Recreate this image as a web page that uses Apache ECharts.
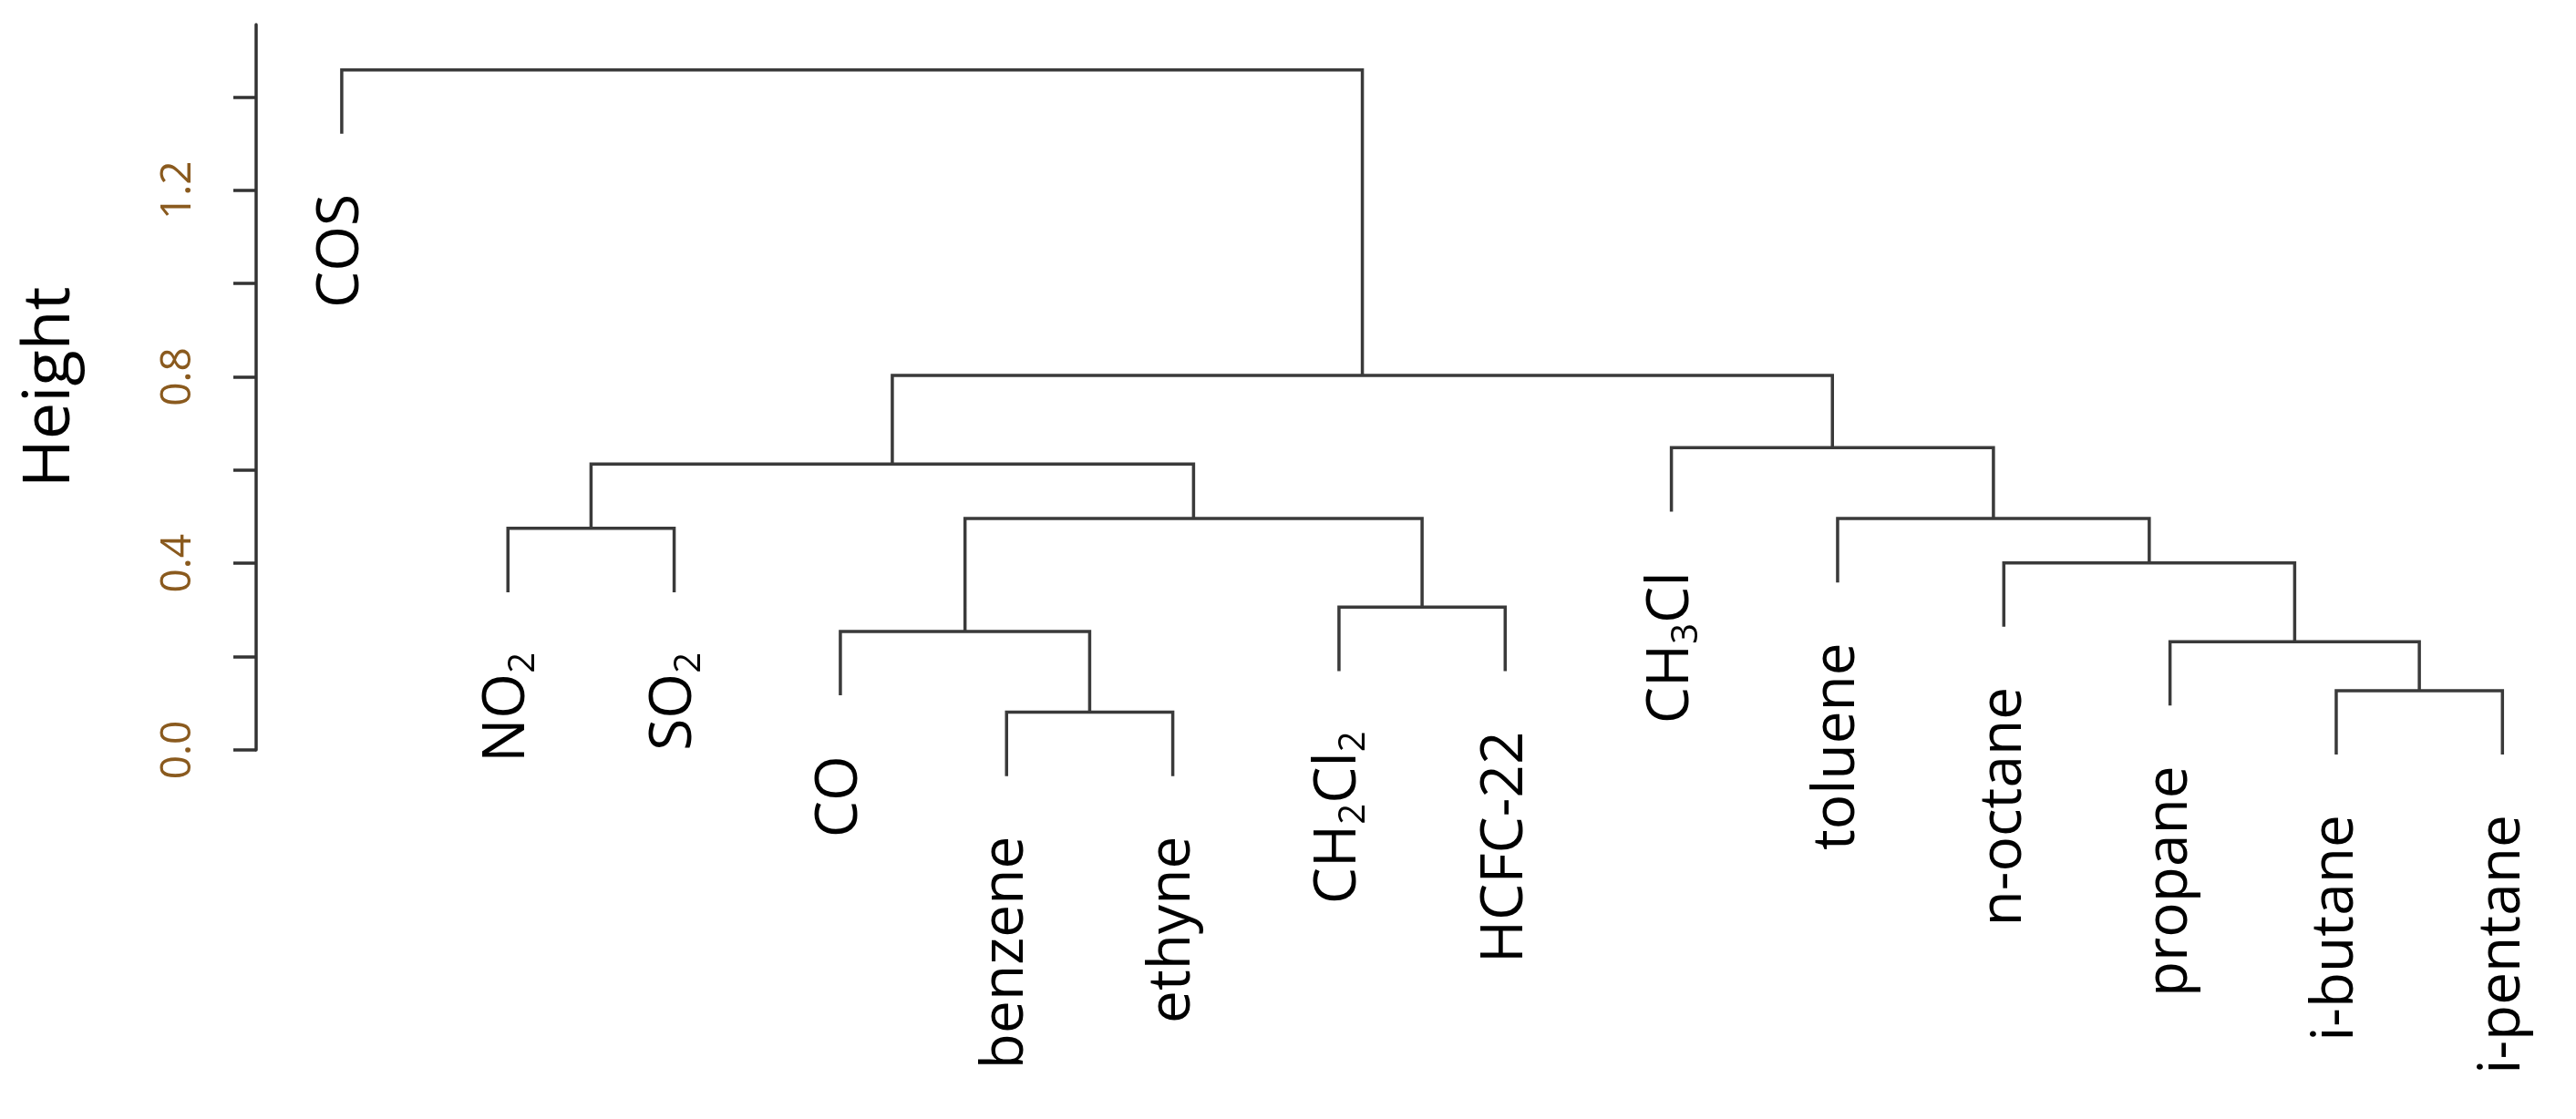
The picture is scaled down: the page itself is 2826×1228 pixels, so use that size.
<!DOCTYPE html>
<html><head><meta charset="utf-8">
<script src="https://cdn.jsdelivr.net/npm/echarts@6/dist/echarts.min.js"></script>
<style>html,body{margin:0;padding:0;background:#fff}#c{width:2826px;height:1228px}</style>
</head><body><div id="c"></div>
<script>
// leaf labels in dendrogram order (rich text for subscripts)
const leaves = ['COS','{a|NO}{s|2}','{a|SO}{s|2}','CO','benzene','ethyne','{a|CH}{s|2}{a|Cl}{s|2}','HCFC-22','{a|CH}{s|3}{a|Cl}','toluene','n-octane','propane','i-butane','i-pentane'];
// merges: negative = leaf (1-based), positive = earlier merge (1-based)
const mergeLeft  = [-5,-13,-12,-4,-7,-2,-11,4,-10,6,-9,10,-1];
const mergeRight = [-6,-14,  2, 1,-8,-3,  3,5,  7,8, 9,11,12];
const mergeHeight = [0.081,0.127,0.232,0.254,0.306,0.475,0.401,0.496,0.496,0.613,0.648,0.803,1.458];
const hang = 0.137;
const yTicks = [0,0.2,0.4,0.6,0.8,1.0,1.2,1.4];
const yLabels = [0,0.4,0.8,1.2];

const nodeX = [];
function cx(id){ return id<0 ? -id : nodeX[id-1]; }
mergeHeight.forEach((h,i)=>{ nodeX[i]=(cx(mergeLeft[i])+cx(mergeRight[i]))/2; });
function cy(id,parentH){ return id<0 ? parentH-hang : mergeHeight[id-1]; }

const data = mergeHeight.map((h,i)=>[i]);
const chart = echarts.init(document.getElementById('c'));
const lineStyle = {stroke:'#3a3a3a', lineWidth:3.5, fill:null};
chart.setOption({
  animation:false,
  grid:{left:281, right:26, top:27, bottom:405, containLabel:false},
  xAxis:{type:'value', min:0.485, max:14.3, show:false},
  yAxis:{type:'value', min:0, max:1.555,
    name:'Height', nameLocation:'middle', nameGap:190, nameRotate:90,
    nameTextStyle:{fontSize:72, color:'#000', fontFamily:'Open Sans'},
    axisLine:{show:true, lineStyle:{color:'#333', width:3.5}},
    axisTick:{show:true, length:25, lineStyle:{color:'#333', width:3.5}, customValues:yTicks},
    axisLabel:{rotate:90, margin:62, fontSize:46, color:'#8a5a1e', fontFamily:'Open Sans',
      customValues:yLabels, formatter:v=>v.toFixed(1)},
    splitLine:{show:false}},
  series:[{type:'custom', clip:false, data:data,
    renderItem:(params, api)=>{
      const i = api.value(0);
      const h = mergeHeight[i];
      const L = mergeLeft[i], R = mergeRight[i];
      const pL = api.coord([cx(L), cy(L,h)]);
      const pR = api.coord([cx(R), cy(R,h)]);
      const tL = api.coord([cx(L), h]);
      const tR = api.coord([cx(R), h]);
      const children = [{type:'polyline', shape:{points:[pL,tL,tR,pR]}, style:lineStyle}];
      [[L,pL],[R,pR]].forEach(([id,p])=>{
        if(id<0){
          children.push({type:'text', x:p[0], y:p[1]+66, rotation:Math.PI/2,
            style:{text:leaves[-id-1], align:'right', verticalAlign:'middle',
              fontSize:64, fontFamily:'Open Sans', fill:'#000',
              rich:{a:{fontSize:64, fontFamily:'Open Sans', fill:'#000'},
                    s:{fontSize:40, fontFamily:'Open Sans', fill:'#000', padding:[34,0,0,0]}}}});
        }
      });
      return {type:'group', children};
    }}]
});
</script></body></html>
